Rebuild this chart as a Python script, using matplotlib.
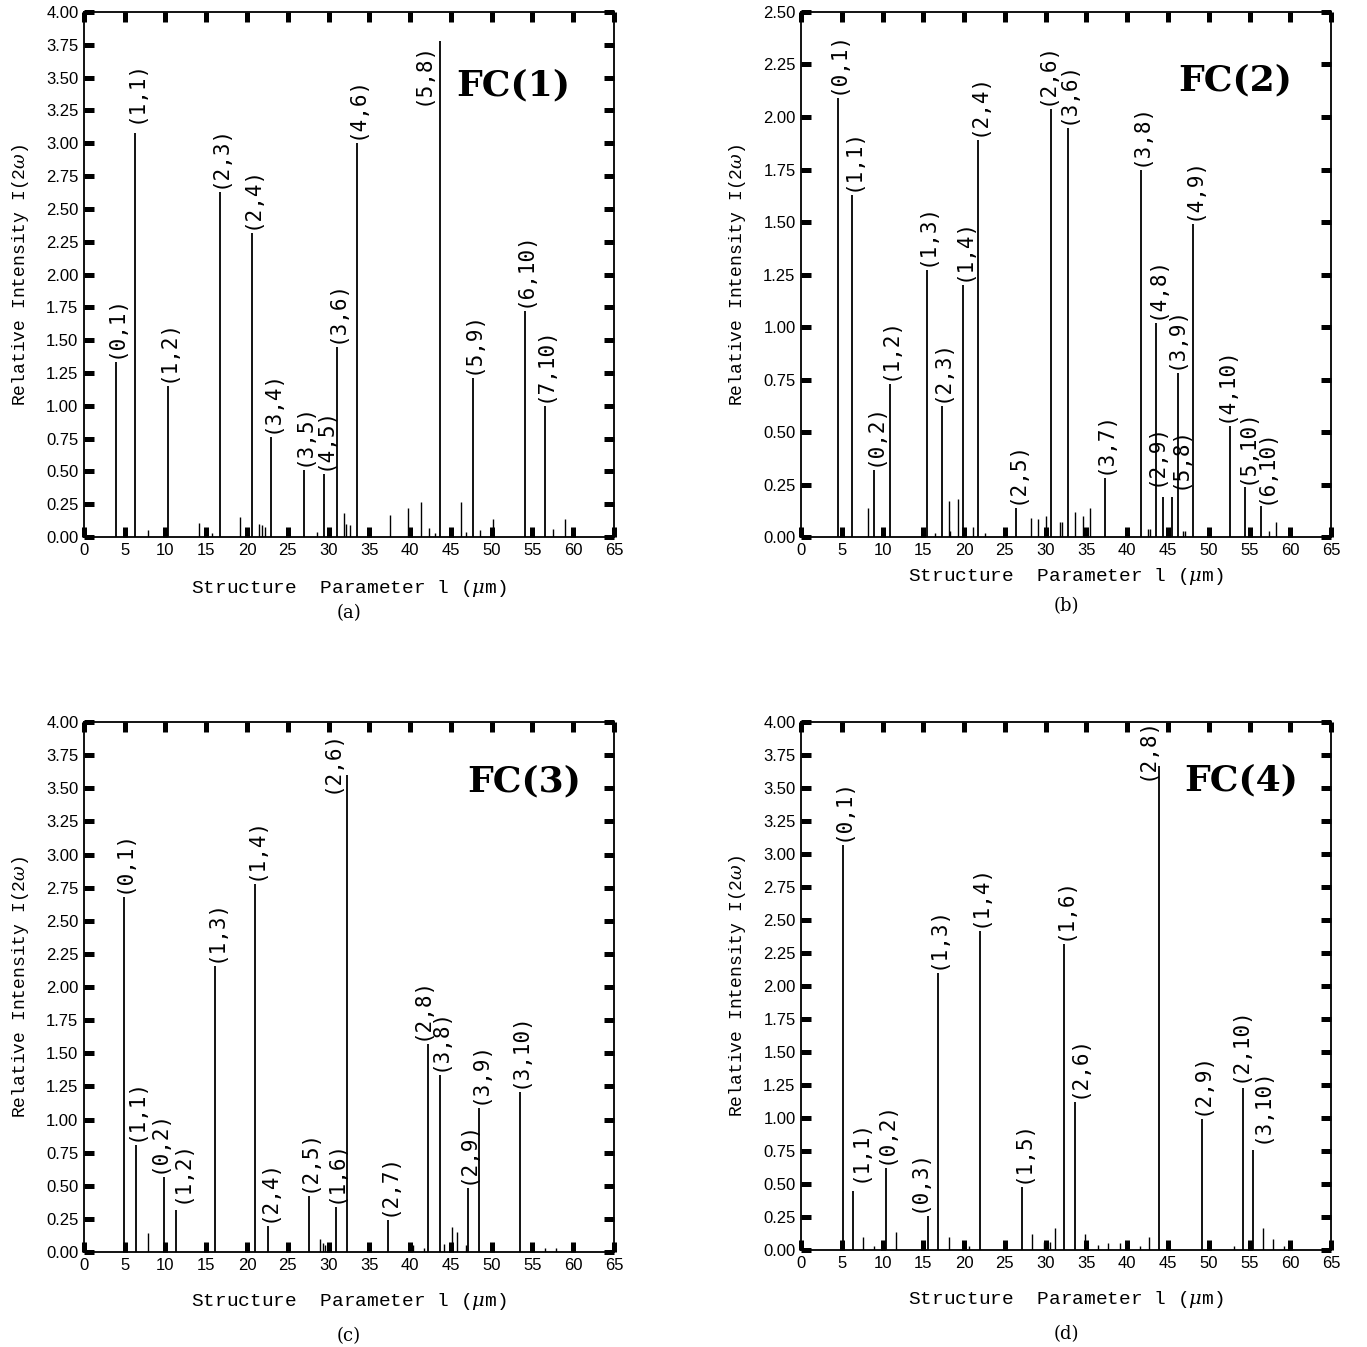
import numpy as np
import matplotlib.pyplot as plt

plt.rcParams['font.family'] = ['Liberation Mono', 'DejaVu Sans']
plt.rcParams['mathtext.fontset'] = 'dejavuserif'

# ---- FC(1) ----
fc1_pos = [3.9, 6.3, 10.3, 16.65, 20.6, 23.0, 27.0, 29.5, 31.0, 33.45, 43.65, 47.7, 54.05, 56.5]
fc1_int = [1.33, 3.08, 1.15, 2.63, 2.32, 0.76, 0.51, 0.48, 1.45, 3.00, 3.78, 1.21, 1.72, 1.00]
fc1_lab = ["(0,1)", "(1,1)", "(1,2)", "(2,3)", "(2,4)", "(3,4)", "(3,5)", "(4,5)",
           "(3,6)", "(4,6)", "(5,8)", "(5,9)", "(6,10)", "(7,10)"]
fc1_minor_pos = [7.9, 14.1, 14.9, 15.7, 19.1, 21.5, 21.9, 22.2, 28.6, 31.9, 32.2, 32.6,
                 37.5, 39.8, 41.3, 42.3, 43.0, 46.2, 46.9, 48.6, 50.2, 57.5, 59.0]
fc1_minor_int = [0.05, 0.11, 0.03, 0.03, 0.15, 0.10, 0.09, 0.08, 0.04, 0.18, 0.10, 0.09,
                 0.17, 0.22, 0.27, 0.07, 0.03, 0.27, 0.04, 0.05, 0.14, 0.06, 0.14]

# ---- FC(2) ----
fc2_pos = [4.5, 6.3, 9.0, 10.9, 15.4, 17.3, 19.9, 21.75, 26.4, 30.7, 32.7, 37.25,
           41.7, 43.55, 44.35, 45.45, 46.25, 48.1, 52.6, 54.45, 56.35]
fc2_int = [2.09, 1.63, 0.32, 0.73, 1.27, 0.625, 1.20, 1.89, 0.14, 2.04, 1.95, 0.28,
           1.75, 1.02, 0.19, 0.19, 0.78, 1.49, 0.53, 0.24, 0.15]
fc2_lab = ["(0,1)", "(1,1)", "(0,2)", "(1,2)", "(1,3)", "(2,3)", "(1,4)", "(2,4)", "(2,5)",
           "(2,6)", "(3,6)", "(3,7)", "(3,8)", "(4,8)", "(2,9)", "(5,8)", "(3,9)", "(4,9)",
           "(4,10)", "(5,10)", "(6,10)"]
fc2_minor_pos = [8.2, 16.4, 18.1, 18.3, 19.2, 21.05, 22.5, 28.2, 29.0, 30.1, 31.7, 32.0,
                 33.6, 34.6, 35.4, 42.6, 42.8, 46.9, 47.1, 57.4, 58.2]
fc2_minor_int = [0.14, 0.02, 0.17, 0.03, 0.18, 0.05, 0.02, 0.09, 0.085, 0.10, 0.07, 0.07,
                 0.12, 0.10, 0.14, 0.04, 0.04, 0.03, 0.03, 0.03, 0.07]

# ---- FC(3) ----
fc3_pos = [4.9, 6.4, 9.8, 11.3, 16.1, 21.0, 22.6, 27.6, 30.9, 32.25, 37.35,
           42.15, 43.65, 47.1, 48.5, 53.45]
fc3_int = [2.68, 0.81, 0.57, 0.32, 2.16, 2.78, 0.20, 0.42, 0.34, 3.60, 0.24,
           1.57, 1.335, 0.48, 1.09, 1.21]
fc3_lab = ["(0,1)", "(1,1)", "(0,2)", "(1,2)", "(1,3)", "(1,4)", "(2,4)", "(2,5)", "(1,6)",
           "(2,6)", "(2,7)", "(2,8)", "(3,8)", "(2,9)", "(3,9)", "(3,10)"]
fc3_minor_pos = [7.9, 29.0, 29.3, 29.6, 40.4, 41.7, 44.2, 45.2, 45.7, 46.9, 56.5, 57.9]
fc3_minor_int = [0.14, 0.10, 0.07, 0.05, 0.05, 0.03, 0.06, 0.19, 0.15, 0.05, 0.03, 0.03]

# ---- FC(4) ----
fc4_pos = [5.1, 6.4, 10.4, 15.55, 16.75, 21.95, 27.15, 32.3, 33.55, 43.9, 49.15, 54.25, 55.45]
fc4_int = [3.07, 0.45, 0.62, 0.26, 2.10, 2.42, 0.48, 2.32, 1.12, 3.67, 0.99, 1.23, 0.755]
fc4_lab = ["(0,1)", "(1,1)", "(0,2)", "(0,3)", "(1,3)", "(1,4)", "(1,5)", "(1,6)", "(2,6)",
           "(2,8)", "(2,9)", "(2,10)", "(3,10)"]
fc4_minor_pos = [7.65, 8.9, 11.6, 18.1, 20.6, 28.3, 29.8, 30.5, 31.1, 34.8, 36.4, 37.6,
                 39.1, 41.6, 42.7, 53.1, 56.6, 57.9, 59.2]
fc4_minor_int = [0.10, 0.03, 0.14, 0.10, 0.03, 0.12, 0.06, 0.06, 0.17, 0.12, 0.04, 0.05,
                 0.05, 0.03, 0.10, 0.03, 0.17, 0.08, 0.03]

# label nudges in pixels (dx, dy); default sits just above the line
fc1_nudge = {"(5,8)": (-17, -64), "(1,1)": (0, 10)}
fc2_nudge = {"(2,9)": (-7, 11), "(3,9)": (-3, 4), "(5,8)": (8, 8), "(2,6)": (-5, 4),
             "(4,10)": (-4, 4), "(5,10)": (2, 3), "(6,10)": (5, 2)}
fc3_nudge = {"(0,2)": (-5, 4), "(1,2)": (6, 7), "(2,6)": (-15, -18), "(2,8)": (-6, 4)}
fc4_nudge = {"(1,1)": (6, 9), "(0,3)": (-9, 4), "(2,6)": (4, 4), "(2,8)": (-12, -14),
             "(2,10)": (-4, 6), "(3,10)": (8, 7)}


def draw_panel(rect, pos, inten, labels, mpos, mint, nudge, ymax, title, tpos,
               letter, xpad, letter_off):
    ax = fig.add_axes(rect)
    ax.vlines(mpos, 0, mint, color="k", lw=1.0)
    ax.vlines(pos, 0, inten, color="k", lw=1.3)
    for x, h, lab in zip(pos, inten, labels):
        dx, dy = nudge.get(lab, (0, 4))
        ax.annotate(lab, xy=(x, h), xytext=(dx * 0.72, dy * 0.72),
                    textcoords="offset points", rotation=90,
                    ha="center", va="bottom", fontsize=15, family="DejaVu Sans Mono")
    ax.set_xlim(0, 65)
    ax.set_ylim(0, ymax)
    ax.set_xticks(np.arange(0, 66, 5))
    ax.set_yticks(np.arange(0, ymax + 0.01, 0.25))
    ax.yaxis.set_major_formatter("{x:.2f}")
    ax.tick_params(direction="in", length=7, width=3.6, top=True, right=True,
                   labelsize=12, pad=4, labelfontfamily="Liberation Sans")
    for s in ax.spines.values():
        s.set_linewidth(1.3)
    ax.set_xlabel("Structure  Parameter l ($\\mu$m)", fontsize=14, labelpad=xpad)
    ax.set_ylabel("Relative Intensity I(2$\\omega$)", fontsize=13, labelpad=11)
    ax.text(tpos[0], tpos[1], title, transform=ax.transAxes, fontsize=26,
            fontweight="bold", family="DejaVu Serif", ha="center", va="center")
    ax.annotate(letter, xy=(0.5, 0), xycoords="axes fraction",
                xytext=(0, -letter_off * 0.72), textcoords="offset points",
                ha="center", va="center", fontsize=13, family="DejaVu Serif")
    return ax


fig = plt.figure(figsize=(13.67, 13.47), dpi=100)

draw_panel([0.0614, 0.6013, 0.3877, 0.3898], fc1_pos, fc1_int, fc1_lab,
           fc1_minor_pos, fc1_minor_int, fc1_nudge, 4.0, "FC(1)", (0.81, 0.86),
           "(a)", 15, 76)
draw_panel([0.586, 0.6013, 0.3877, 0.3898], fc2_pos, fc2_int, fc2_lab,
           fc2_minor_pos, fc2_minor_int, fc2_nudge, 2.5, "FC(2)", (0.82, 0.87),
           "(b)", 6, 69)
draw_panel([0.0614, 0.0705, 0.3877, 0.3935], fc3_pos, fc3_int, fc3_lab,
           fc3_minor_pos, fc3_minor_int, fc3_nudge, 4.0, "FC(3)", (0.83, 0.887),
           "(c)", 13, 84)
draw_panel([0.586, 0.072, 0.3877, 0.392], fc4_pos, fc4_int, fc4_lab,
           fc4_minor_pos, fc4_minor_int, fc4_nudge, 4.0, "FC(4)", (0.83, 0.89),
           "(d)", 13, 84)

plt.savefig("out.png", dpi=100)
